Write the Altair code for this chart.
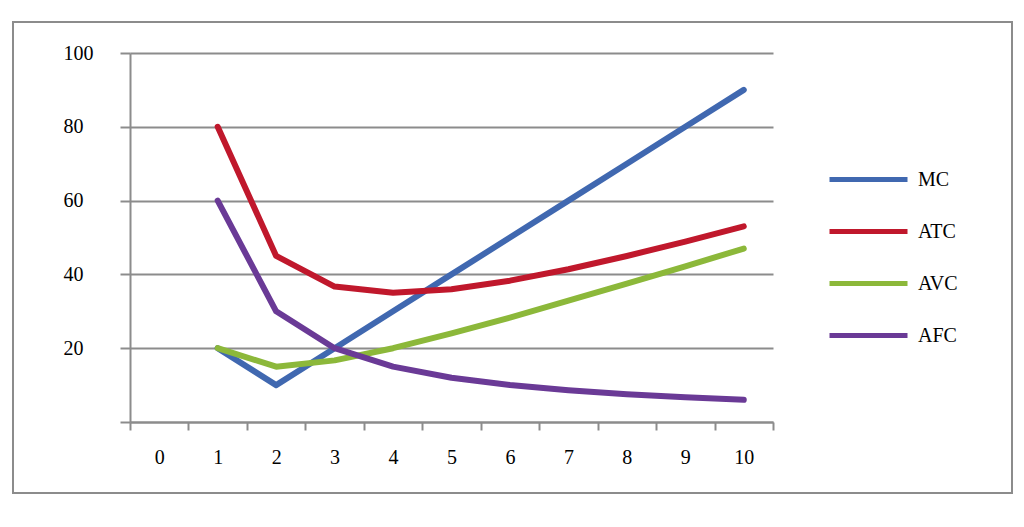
import altair as alt
import pandas as pd

quantity = [1, 2, 3, 4, 5, 6, 7, 8, 9, 10]
categories = ["0", "1", "2", "3", "4", "5", "6", "7", "8", "9", "10"]
mc = [20, 10, 20, 30, 40, 50, 60, 70, 80, 90]
atc = [80, 45, 36.7, 35, 36, 38.3, 41.4, 45, 48.9, 53]
avc = [20, 15, 16.7, 20, 24, 28.3, 32.9, 37.5, 42.2, 47]
afc = [60, 30, 20, 15, 12, 10, 8.6, 7.5, 6.7, 6]
series_names = ["MC", "ATC", "AVC", "AFC"]
series_colors = ["#4068B0", "#C0182C", "#8CB83A", "#6A3A96"]
y_ticks = [0, 20, 40, 60, 80, 100]

rows = []
for name, vals in zip(series_names, [mc, atc, avc, afc]):
    for q, v in zip(quantity, vals):
        rows.append({"q": str(q), "qn": q, "value": v, "series": name})
df = pd.DataFrame(rows)

FONT = "Liberation Serif"
GRAY = "#8c8c8c"
FS = 20

border = alt.Chart(pd.DataFrame({"a": [0]})).mark_rect(
    fill=None, stroke=GRAY, strokeWidth=2
).encode(
    x=alt.value(-117), x2=alt.value(882), y=alt.value(-31), y2=alt.value(440)
)

lines = alt.Chart(df).mark_line(strokeWidth=6, strokeCap="round", strokeJoin="round").encode(
    x=alt.X("q:N", sort=categories,
            scale=alt.Scale(domain=categories, paddingInner=0, paddingOuter=0),
            axis=alt.Axis(title=None, labelAngle=0, tickBand="extent", grid=False,
                          domainColor=GRAY, domainWidth=2, tickColor=GRAY, tickWidth=2,
                          tickSize=8, labelFont=FONT, labelFontSize=FS, labelColor="black",
                          labelBaseline="middle", labelPadding=27)),
    y=alt.Y("value:Q", scale=alt.Scale(domain=[0, 100], nice=False),
            axis=alt.Axis(title=None, values=y_ticks, grid=True, gridColor=GRAY, gridWidth=2,
                          domainColor=GRAY, domainWidth=2, tickColor=GRAY, tickWidth=2,
                          tickSize=10, labelAlign="left", labelPadding=57,
                          labelExpr="datum.value == 0 ? '' : datum.label",
                          labelFont=FONT, labelFontSize=FS, labelColor="black",
                          labelBaseline="middle")),
    color=alt.Color("series:N", sort=series_names,
                    scale=alt.Scale(domain=series_names, range=series_colors),
                    legend=alt.Legend(title=None, orient="none", legendX=697, legendY=85,
                                      symbolType="stroke", symbolSize=6084,
                                      symbolStrokeWidth=5, labelOffset=8,
                                      labelFont=FONT, labelFontSize=FS, labelColor="black",
                                      rowPadding=-35)),
    order=alt.Order("qn:Q")
)

chart = alt.layer(border, lines).properties(
    width=643, height=369,
    autosize=alt.AutoSizeParams(type="none"),
    padding={"left": 122, "top": 45, "right": 243, "bottom": 97},
    background="white"
).configure_view(stroke=None)

chart.save("out.html", embed_options={"renderer": "svg", "actions": False})
